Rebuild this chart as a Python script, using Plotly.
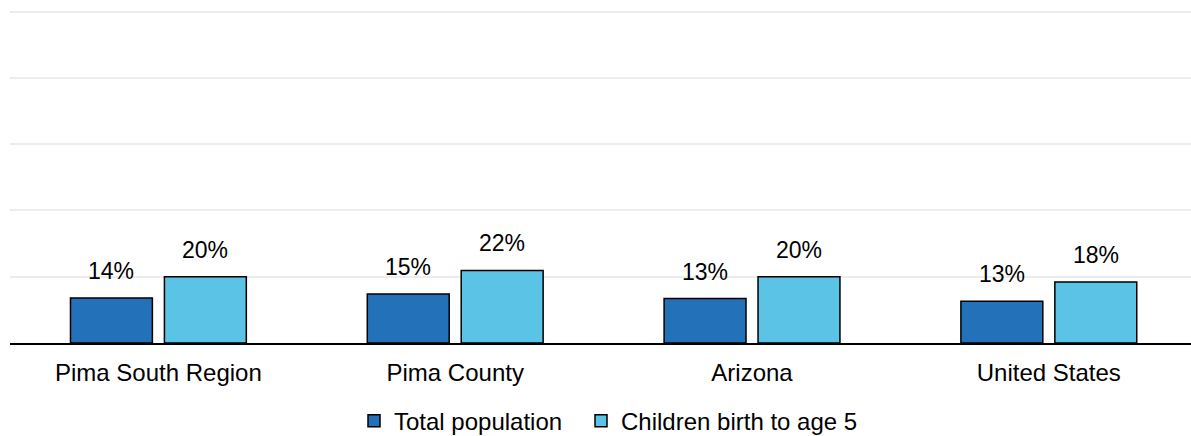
import plotly.graph_objects as go

categories = ["Pima South Region", "Pima County", "Arizona", "United States"]
total_population = [13.6, 14.8, 13.4, 12.6]
children_0_5 = [20.0, 21.9, 20.0, 18.4]
series_names = ["Total population", "Children birth to age 5"]

DARK = "#2371B9"
LIGHT = "#5BC3E6"
FONT = "Liberation Sans, Arial, sans-serif"

fig = go.Figure()
fig.add_trace(go.Bar(x=categories, y=total_population, name=series_names[0],
                     legend="legend",
                     marker=dict(color=DARK, line=dict(color="black", width=1.5))))
fig.add_trace(go.Bar(x=categories, y=children_0_5, name=series_names[1],
                     legend="legend2",
                     marker=dict(color=LIGHT, line=dict(color="black", width=1.5))))

annotations = []
for vals, shift in ((total_population, -47), (children_0_5, 47)):
    for c, v in zip(categories, vals):
        annotations.append(dict(x=c, y=v, text=f"{v:.0f}%", showarrow=False,
                                xshift=shift, yshift=27, yanchor="middle",
                                font=dict(family=FONT, size=23, color="black")))

legend_common = dict(orientation="h", xref="container", yref="container",
                     xanchor="left", y=0.034, yanchor="middle",
                     font=dict(family=FONT, size=24, color="black"),
                     itemwidth=30, bgcolor="rgba(0,0,0,0)")

fig.update_layout(
    width=1191, height=436,
    margin=dict(l=10, r=0, t=10, b=93),
    paper_bgcolor="white", plot_bgcolor="white",
    barmode="group", bargap=0.367, bargroupgap=0.128,
    font=dict(family=FONT, size=24, color="black"),
    annotations=annotations,
    showlegend=True,
    legend=dict(x=354 / 1191, **legend_common),
    legend2=dict(x=581 / 1191, **legend_common),
    xaxis=dict(range=[-0.5, 3.479], showline=True, linecolor="black", linewidth=2,
               showgrid=False, ticks="outside", ticklen=7, tickcolor="rgba(0,0,0,0)",
               tickfont=dict(family=FONT, size=24, color="black")),
    yaxis=dict(range=[0, 100.5], dtick=20, showticklabels=False, showgrid=True,
               gridcolor="#ECECEC", gridwidth=1.5, zeroline=False, showline=False),
)

fig.write_html("out.html", config={"displayModeBar": False},
               post_script="document.body.style.margin='0';document.body.style.overflow='hidden';")
